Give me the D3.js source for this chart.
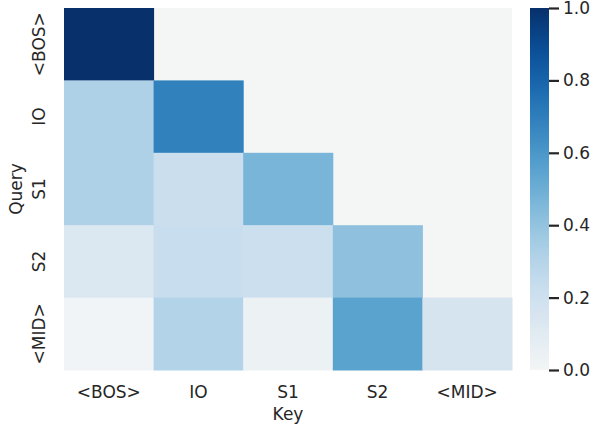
<!DOCTYPE html>
<html>
<head>
<meta charset="utf-8">
<script src="https://cdn.jsdelivr.net/npm/d3@7"></script>
<style>
  html, body { margin: 0; padding: 0; background: #ffffff; }
  svg { display: block; }
  text { font-family: "DejaVu Sans", Verdana, sans-serif; fill: #262626; }
</style>
</head>
<body>
<svg id="chart" width="594" height="428"></svg>
<script>
// Attention pattern: rows are queries, columns are keys (lower-triangular, causal)
const queries = ["<BOS>", "IO", "S1", "S2", "<MID>"];
const keys = ["<BOS>", "IO", "S1", "S2", "<MID>"];
const attention = [
  [1.00],
  [0.32, 0.69],
  [0.32, 0.22, 0.47],
  [0.13, 0.23, 0.21, 0.41],
  [0.01, 0.31, 0.04, 0.55, 0.16]
];
const colorTicks = [0.0, 0.2, 0.4, 0.6, 0.8, 1.0];

const FONT = "17px";
const plot = { left: 64, top: 8, width: 448, height: 362 };
const cbar = { left: 530, width: 19 };
const maskColor = "#f4f6f6";

// Blues-style ramp
const blueStops = ["#f3f5f6", "#dce8f1", "#c6dbee", "#9ecae1", "#6baed6",
                   "#4292c6", "#2171b5", "#08519c", "#08306b"];
const color = d3.scaleSequential(d3.interpolateRgbBasis(blueStops)).domain([0, 1]);

const svg = d3.select("#chart");

const x = d3.scaleBand().domain(keys).range([plot.left, plot.left + plot.width]).padding(0);
const y = d3.scaleBand().domain(queries).range([plot.top, plot.top + plot.height]).padding(0);

// masked (future) region shows the axes background
svg.append("rect")
  .attr("x", plot.left).attr("y", plot.top)
  .attr("width", plot.width).attr("height", plot.height)
  .attr("fill", maskColor);

const cells = [];
attention.forEach((row, i) => row.forEach((v, j) => cells.push({ q: queries[i], k: keys[j], v })));

svg.append("g").selectAll("rect")
  .data(cells)
  .join("rect")
  .attr("x", d => x(d.k))
  .attr("y", d => y(d.q))
  .attr("width", x.bandwidth() + 0.5)
  .attr("height", y.bandwidth() + 0.5)
  .attr("fill", d => color(d.v));

// x axis tick labels
const xAxis = svg.append("g")
  .attr("transform", `translate(0,${plot.top + plot.height})`)
  .call(d3.axisBottom(x).tickSize(0).tickPadding(0));
xAxis.select(".domain").remove();
xAxis.selectAll("text")
  .attr("y", 28).attr("dy", null)
  .style("font-size", FONT);

// y axis tick labels, rotated
const yAxis = svg.append("g")
  .attr("transform", `translate(${plot.left},0)`)
  .call(d3.axisLeft(y).tickSize(0).tickPadding(0));
yAxis.select(".domain").remove();
yAxis.selectAll("text")
  .attr("x", null).attr("dy", null)
  .attr("text-anchor", "middle")
  .attr("transform", "translate(-19,0) rotate(-90)")
  .style("font-size", FONT);

// axis titles
svg.append("text")
  .attr("x", plot.left + plot.width / 2)
  .attr("y", 420)
  .attr("text-anchor", "middle")
  .style("font-size", FONT)
  .text("Key");

svg.append("text")
  .attr("transform", `translate(21.5,${plot.top + plot.height / 2}) rotate(-90)`)
  .attr("text-anchor", "middle")
  .style("font-size", FONT)
  .text("Query");

// colour bar
const defs = svg.append("defs");
const grad = defs.append("linearGradient")
  .attr("id", "cbarGrad")
  .attr("x1", "0").attr("y1", "1").attr("x2", "0").attr("y2", "0");
d3.range(0, 1.0001, 0.02).forEach(t => {
  grad.append("stop").attr("offset", t).attr("stop-color", color(t));
});
svg.append("rect")
  .attr("x", cbar.left).attr("y", plot.top)
  .attr("width", cbar.width).attr("height", plot.height)
  .attr("fill", "url(#cbarGrad)");

const cScale = d3.scaleLinear().domain([0, 1]).range([plot.top + plot.height, plot.top]);
const cAxis = svg.append("g")
  .attr("transform", `translate(${cbar.left + cbar.width},0)`)
  .call(d3.axisRight(cScale).tickValues(colorTicks).tickFormat(d3.format(".1f"))
    .tickSize(10).tickPadding(4));
cAxis.select(".domain").remove();
cAxis.selectAll(".tick line").attr("stroke", "#262626").attr("stroke-width", 2.2);
cAxis.selectAll("text").style("font-size", FONT);
</script>
</body>
</html>
